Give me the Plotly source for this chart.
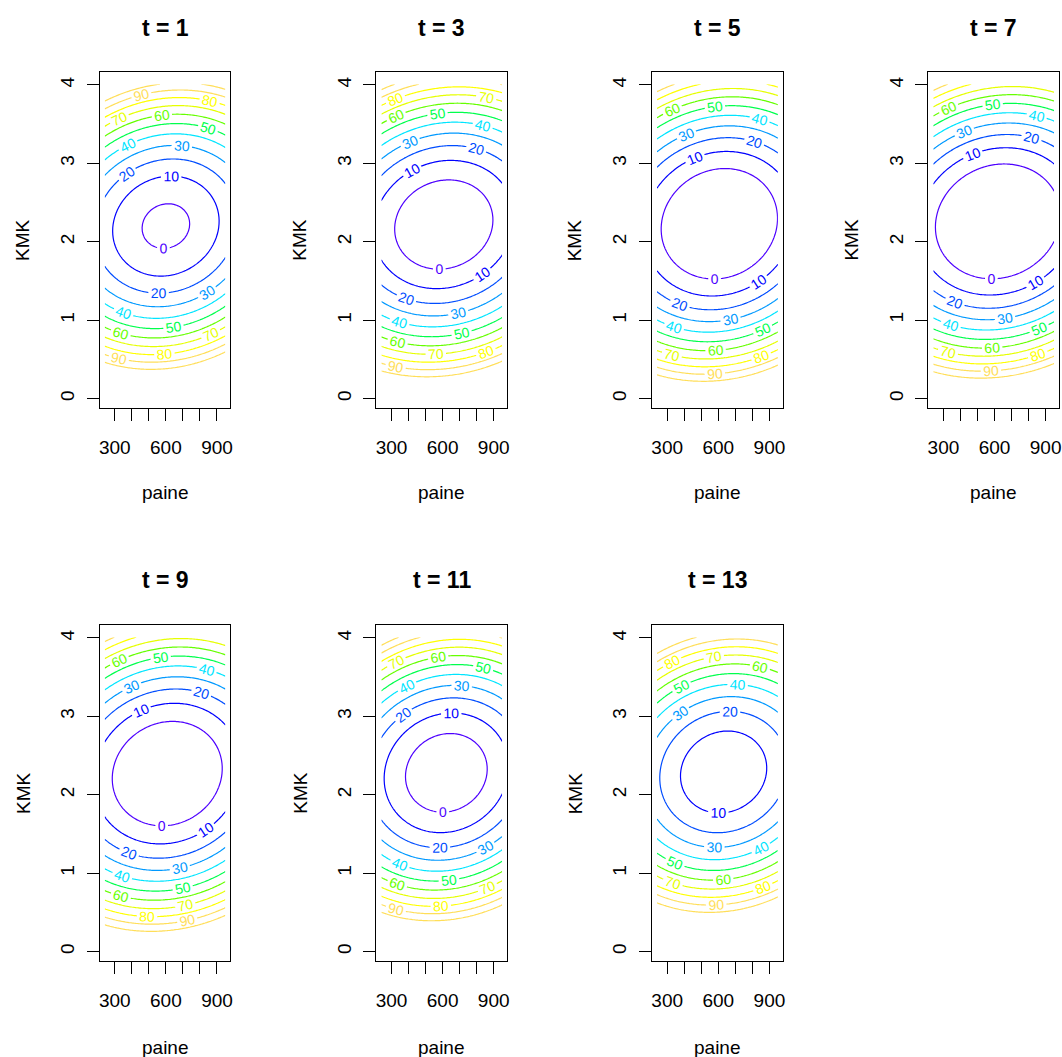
import numpy as np
import plotly.graph_objects as go

# ---- data ----
t_values = [1, 3, 5, 7, 9, 11, 13]
# fitted quadratic surface parameters per panel
center_paine = [600, 607, 606, 620, 608, 622, 631]
center_kmk = [2.20, 2.22, 2.23, 2.26, 2.27, 2.28, 2.29]
min_value = [-2.5, -9.4, -14.0, -15.5, -12.3, -7.6, 1.6]
curv_paine = [1.28, 1.13, 1.20, 1.15, 1.18, 1.32, 1.31]   # per (100 paine)^2
curv_kmk = [31.0, 29.3, 28.5, 29.2, 28.0, 30.5, 31.0]     # per KMK^2
tilt_kmk = [0.02, 0.02, 0.02, 0.02, 0.02, 0.02, 0.02]     # KMK shift per 100 paine
paine_limits = [240, 950]
kmk_limits = [0.04, 4.01]

levels = [0, 10, 20, 30, 40, 50, 60, 70, 80, 90, 100]
level_colors = ["#4D00FF", "#0000FF", "#004DFF", "#0099FF", "#00E5FF", "#00FF4D",
                "#66FF00", "#E6FF00", "#FFFF00", "#FFDE59", "#FFE0B3"]

x_tick_vals = [300, 400, 500, 600, 700, 800, 900]
x_tick_text = ["300", "", "", "600", "", "", "900"]
y_tick_vals = [0, 1, 2, 3, 4]
y_tick_text = ["0", "1", "2", "3", "4"]

# ---- layout geometry (pixels) ----
W, H = 1062, 1057
col_left = [99, 376.5, 653, 930]
row_top = [72, 625]
box_w, box_h = 131, 336
x_range = [211.6, 978.4]
y_range = [-0.12, 4.165]

FONT = "Liberation Sans, Arial, sans-serif"

# stepped colorscale so every level gets its own exact colour
cs = []
for k in range(10):
    cs.append([k / 10, level_colors[k]])
    cs.append([(k + 1) / 10, level_colors[k]])
cs.append([1.0, level_colors[10]])

xg = np.linspace(paine_limits[0], paine_limits[1], 90)
yg = np.linspace(kmk_limits[0], kmk_limits[1], 90)
XX, YY = np.meshgrid(xg, yg)

fig = go.Figure()
annotations = []
layout = {}

for i, t in enumerate(t_values):
    r, c = divmod(i, 4)
    n = i + 1
    dx = (XX - center_paine[i]) / 100.0
    yc = center_kmk[i] + tilt_kmk[i] * dx
    Z = min_value[i] + curv_kmk[i] * (YY - yc) ** 2 + curv_paine[i] * dx ** 2

    xa = "x" if n == 1 else f"x{n}"
    ya = "y" if n == 1 else f"y{n}"
    fig.add_trace(go.Contour(
        x=xg, y=yg, z=Z, xaxis=xa, yaxis=ya,
        autocontour=False,
        contours=dict(start=levels[0], end=levels[-1], size=10, coloring="lines",
                      showlabels=True,
                      labelfont=dict(size=14, family=FONT)),
        colorscale=cs, showscale=False,
        line=dict(width=1.2, smoothing=0),
        hoverinfo="skip",
    ))

    left = col_left[c]
    top = row_top[r]
    xd = [left / W, min((left + box_w) / W, 1.0)]
    yd = [1 - (top + box_h) / H, 1 - top / H]
    axis_common = dict(showline=True, mirror=True, linecolor="black", linewidth=1.3,
                       ticks="outside", ticklen=12, tickwidth=1.3, tickcolor="black",
                       showgrid=False, zeroline=False,
                       tickfont=dict(size=19, family=FONT, color="black"))
    layout["xaxis" if n == 1 else f"xaxis{n}"] = dict(
        domain=xd, range=x_range, anchor=ya,
        tickmode="array", tickvals=x_tick_vals, ticktext=x_tick_text,
        ticklabelstandoff=10, **axis_common)
    layout["yaxis" if n == 1 else f"yaxis{n}"] = dict(
        domain=yd, range=y_range, anchor=xa,
        tickmode="array", tickvals=y_tick_vals, ticktext=y_tick_text,
        tickangle=-90, ticklabelstandoff=5, **axis_common)

    cx = (left + box_w / 2) / W
    annotations.append(dict(text=f"<b>t = {t}</b>", x=cx, y=1 - (28 if r == 0 else 580) / H,
                            xref="paper", yref="paper", showarrow=False,
                            xanchor="center", yanchor="middle",
                            font=dict(size=23, family=FONT, color="black")))
    annotations.append(dict(text="paine", x=cx, y=1 - (492 if r == 0 else 1047) / H,
                            xref="paper", yref="paper", showarrow=False,
                            xanchor="center", yanchor="middle",
                            font=dict(size=19, family=FONT, color="black")))
    annotations.append(dict(text="KMK", x=(left - 77) / W, y=1 - (top + box_h / 2) / H,
                            xref="paper", yref="paper", showarrow=False, textangle=-90,
                            xanchor="center", yanchor="middle",
                            font=dict(size=19, family=FONT, color="black")))

fig.update_layout(
    width=W, height=H, margin=dict(l=0, r=0, t=0, b=0),
    paper_bgcolor="white", plot_bgcolor="white",
    showlegend=False, annotations=annotations, **layout)

fig.write_html("out.html")
